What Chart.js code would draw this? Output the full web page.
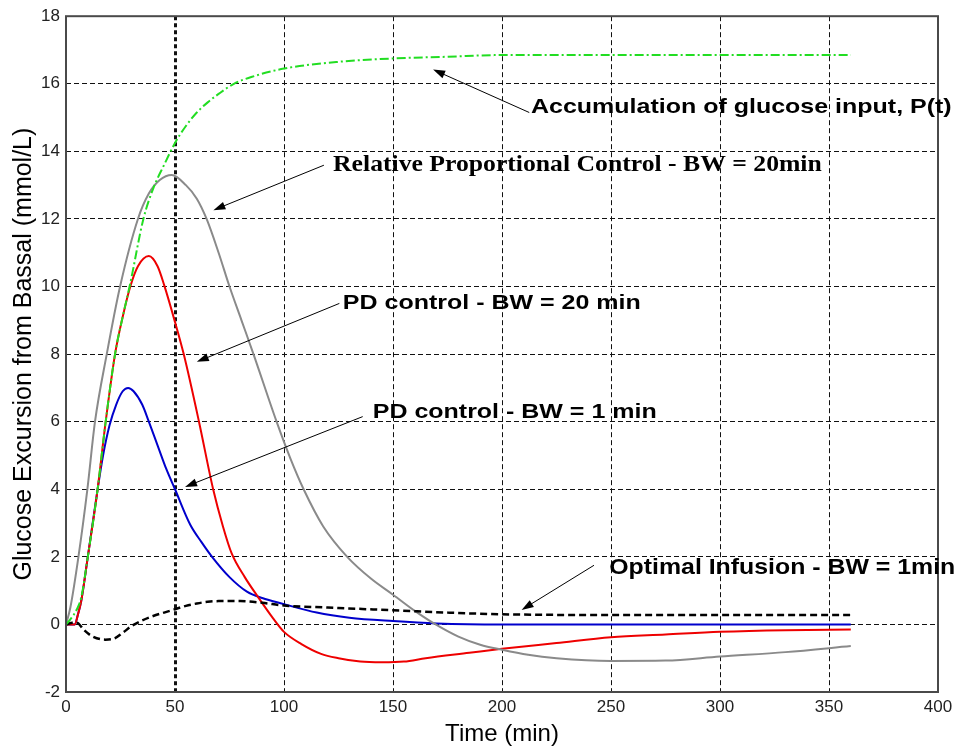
<!DOCTYPE html>
<html>
<head>
<meta charset="utf-8">
<title>Glucose Excursion from Bassal</title>
<script src="https://cdn.jsdelivr.net/npm/chart.js@4.4.1/dist/chart.umd.min.js"></script>
<style>
  html, body { margin: 0; padding: 0; background: #fff; }
  #wrap { width: 961px; height: 754px; }
</style>
</head>
<body>
<div id="wrap"><canvas id="glucoseChart" width="961" height="754"></canvas></div>
<script>
// Values (time in min, glucose in mmol/L)
const xTicks = [0, 50, 100, 150, 200, 250, 300, 350, 400];
const yTicks = [-2, 0, 2, 4, 6, 8, 10, 12, 14, 16, 18];

const accumTime = [0, 2, 5, 7, 10, 14.5, 18.2, 22.5, 26, 29.5, 35.5, 40, 45, 50, 55, 60, 65, 70, 77, 85, 100, 125, 150, 175, 200, 360];
const accumValue = [0, 0.15, 0.45, 0.8, 2, 4, 6, 8, 9.1, 10.1, 12, 12.9, 13.6, 14.25, 14.75, 15.15, 15.45, 15.7, 16, 16.2, 16.45, 16.65, 16.75, 16.8, 16.85, 16.85];

const optimalTime = [0, 3, 5, 8, 12, 18, 22, 26, 30, 35, 40, 45, 50, 55, 60, 65, 70, 80, 90, 100, 120, 150, 175, 200, 250, 360];
const optimalValue = [0, 0.05, 0.05, -0.15, -0.35, -0.45, -0.42, -0.25, -0.05, 0.12, 0.25, 0.35, 0.45, 0.55, 0.62, 0.67, 0.69, 0.69, 0.64, 0.56, 0.5, 0.42, 0.35, 0.3, 0.28, 0.28];

const relPropTime = [0, 2, 5.7, 9.8, 13.3, 18.7, 24.8, 33, 38, 43, 48.5, 55, 60, 64.5, 70, 75, 80.5, 86, 96.6, 103, 109, 118, 129, 140, 150, 160, 168, 180, 190, 200, 212, 225, 250, 275, 300, 330, 360];
const relPropValue = [0, 0.5, 2, 4, 6, 8, 10, 12, 12.75, 13.15, 13.3, 13.0, 12.6, 12, 11.0, 10, 9, 8, 6, 4.9, 4, 2.9, 2, 1.35, 0.88, 0.4, 0.06, -0.36, -0.6, -0.75, -0.9, -1.0, -1.08, -1.07, -0.95, -0.82, -0.64];

const pd20Time = [0, 4, 5.5, 7, 10, 14.5, 18.2, 22.5, 26, 29.5, 33, 38, 42, 45, 50, 54, 61, 67.5, 72, 76, 82, 88, 95, 100, 108, 117, 125, 135, 145, 155, 165, 185, 200, 225, 250, 275, 300, 330, 360];
const pd20Value = [0, 0, 0.3, 0.7, 2, 4, 6, 8, 9.1, 10, 10.6, 10.9, 10.6, 10.05, 8.95, 8, 6, 4, 2.9, 2.1, 1.4, 0.82, 0.18, -0.22, -0.58, -0.87, -1.0, -1.1, -1.12, -1.1, -1.0, -0.84, -0.72, -0.55, -0.38, -0.3, -0.22, -0.17, -0.15];

const pd1Time = [0, 4, 5.5, 7, 10, 14.5, 17, 20, 23, 26, 28.5, 31, 35, 38, 42, 46, 50, 57, 62, 67, 75, 83, 90, 100, 115, 130, 150, 170, 200, 360];
const pd1Value = [0, 0, 0.3, 0.7, 2, 4, 5, 5.9, 6.5, 6.9, 7.0, 6.9, 6.5, 6.0, 5.3, 4.6, 4.0, 2.95, 2.45, 2.0, 1.4, 0.97, 0.78, 0.6, 0.35, 0.2, 0.1, 0.03, 0, 0];

// Callout labels: text anchor and arrow tip in data units
const notes = [
  { text: "Accumulation of glucose input, P(t)", font: 'bold 21px "Liberation Sans"', stretch: 1.19, at: [213.3, 15.32], from: [212.5, 15.15], tip: [168.4, 16.42] },
  { text: "Relative Proportional Control - BW = 20min", font: 'bold 24px "Liberation Serif"', stretch: 1.07, at: [122.5, 13.6], from: [118.3, 13.59], tip: [67.6, 12.26] },
  { text: "PD control - BW = 20 min", font: 'bold 21px "Liberation Sans"', stretch: 1.19, at: [127, 9.5], from: [125.4, 9.5], tip: [60, 7.77] },
  { text: "PD control - BW = 1 min", font: 'bold 21px "Liberation Sans"', stretch: 1.19, at: [140.7, 6.29], from: [136.1, 6.15], tip: [54.6, 4.07] },
  { text: "Optimal Infusion - BW = 1min", font: 'bold 22px "Liberation Sans"', stretch: 1.13, at: [249.2, 1.68], from: [242.2, 1.75], tip: [209, 0.43] }
];

function toPoints(times, values) {
  return times.map((t, i) => ({ x: t, y: values[i] }));
}

function drawArrow(ctx, x1, y1, x2, y2) {
  const ang = Math.atan2(y2 - y1, x2 - x1);
  const len = 12, half = 4;
  ctx.beginPath();
  ctx.moveTo(x1, y1);
  ctx.lineTo(x2 - Math.cos(ang) * 6, y2 - Math.sin(ang) * 6);
  ctx.stroke();
  ctx.beginPath();
  ctx.moveTo(x2, y2);
  ctx.lineTo(x2 - len * Math.cos(ang) + half * Math.sin(ang), y2 - len * Math.sin(ang) - half * Math.cos(ang));
  ctx.lineTo(x2 - len * Math.cos(ang) - half * Math.sin(ang), y2 - len * Math.sin(ang) + half * Math.cos(ang));
  ctx.closePath();
  ctx.fill();
}

const frameAndNotes = {
  id: "frameAndNotes",
  afterDatasetsDraw(chart) {
    const { ctx, chartArea: a, scales } = chart;
    ctx.save();
    ctx.strokeStyle = "#4a4a4a";
    ctx.lineWidth = 2;
    ctx.strokeRect(a.left, a.top, a.right - a.left, a.bottom - a.top);

    ctx.strokeStyle = "#000";
    ctx.fillStyle = "#000";
    ctx.lineWidth = 1;
    notes.forEach((n) => {
      drawArrow(ctx,
        scales.x.getPixelForValue(n.from[0]), scales.y.getPixelForValue(n.from[1]),
        scales.x.getPixelForValue(n.tip[0]), scales.y.getPixelForValue(n.tip[1]));
      ctx.save();
      ctx.translate(scales.x.getPixelForValue(n.at[0]), scales.y.getPixelForValue(n.at[1]));
      ctx.scale(n.stretch, 1);
      ctx.font = n.font;
      ctx.textAlign = "left";
      ctx.textBaseline = "middle";
      ctx.fillText(n.text, 0, 0);
      ctx.restore();
    });
    ctx.restore();
  }
};

const tickFont = { family: '"Liberation Sans", Arial, sans-serif', size: 17 };

const chart = new Chart(document.getElementById("glucoseChart").getContext("2d"), {
  type: "line",
  data: {
    datasets: [
      { label: "Accumulation of glucose input, P(t)", data: toPoints(accumTime, accumValue), borderColor: "#22dd22", borderWidth: 2, borderDash: [9, 3, 2, 3] },
      { label: "Optimal Infusion - BW = 1min", data: toPoints(optimalTime, optimalValue), borderColor: "#000", borderWidth: 2.5, borderDash: [7, 4] },
      { label: "Relative Proportional Control - BW = 20min", data: toPoints(relPropTime, relPropValue), borderColor: "#8a8a8a", borderWidth: 2 },
      { label: "PD control - BW = 20 min", data: toPoints(pd20Time, pd20Value), borderColor: "#ee0000", borderWidth: 2 },
      { label: "PD control - BW = 1 min", data: toPoints(pd1Time, pd1Value), borderColor: "#0000cc", borderWidth: 2 }
    ]
  },
  options: {
    responsive: false,
    animation: false,
    layout: { padding: { top: 15, right: 23, left: 0, bottom: 0 } },
    elements: {
      point: { radius: 0 },
      line: { cubicInterpolationMode: "monotone", fill: false }
    },
    plugins: {
      legend: { display: false },
      tooltip: { enabled: false }
    },
    scales: {
      x: {
        type: "linear",
        min: xTicks[0],
        max: xTicks[xTicks.length - 1],
        afterBuildTicks: (scale) => { scale.ticks = xTicks.map((v) => ({ value: v })); },
        afterFit: (scale) => { scale.height = 62; },
        ticks: { color: "#222", font: tickFont, padding: 5, maxRotation: 0 },
        grid: {
          color: "#111",
          drawTicks: false,
          lineWidth: (c) => (c.tick && c.tick.value === 50 ? 3 : 1)
        },
        border: {
          display: false,
          dash: (c) => (c.tick && c.tick.value === 50 ? [4, 3] : [5, 3])
        },
        title: {
          display: true,
          text: "Time (min)",
          color: "#000",
          font: { family: '"Liberation Sans", Arial, sans-serif', size: 24 },
          padding: { top: 0, bottom: 5 }
        }
      },
      y: {
        type: "linear",
        min: yTicks[0],
        max: yTicks[yTicks.length - 1],
        afterBuildTicks: (scale) => { scale.ticks = yTicks.map((v) => ({ value: v })); },
        afterFit: (scale) => { scale.width = 66; },
        ticks: { color: "#222", font: tickFont, padding: 6 },
        grid: { color: "#111", drawTicks: false, lineWidth: 1 },
        border: { display: false, dash: [5, 3] },
        title: {
          display: true,
          text: "Glucose Excursion from Bassal (mmol/L)",
          color: "#000",
          font: { family: '"Liberation Sans", Arial, sans-serif', size: 25 },
          padding: { top: 9, bottom: 0 }
        }
      }
    }
  },
  plugins: [frameAndNotes]
});
</script>
</body>
</html>
